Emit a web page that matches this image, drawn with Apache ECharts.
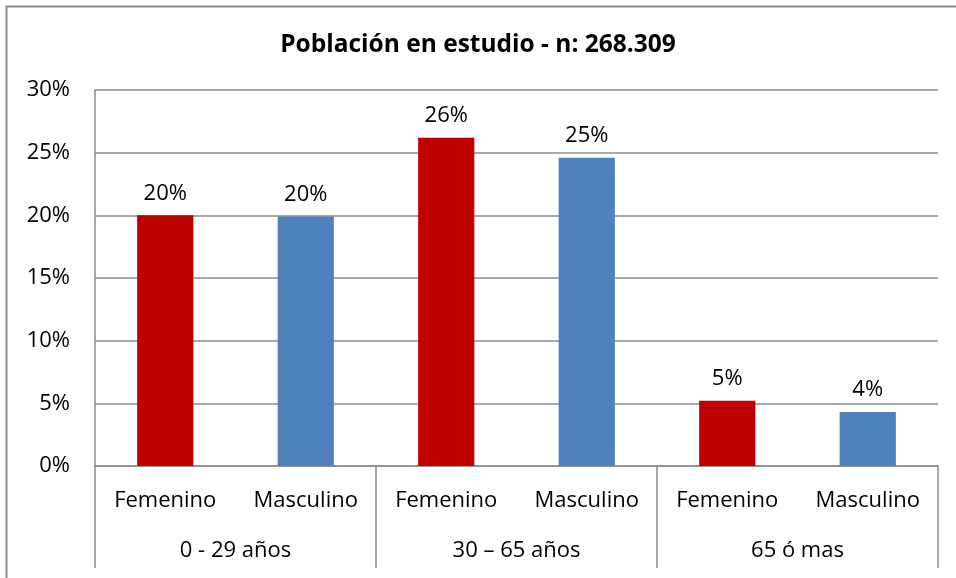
<!DOCTYPE html>
<html>
<head>
<meta charset="utf-8">
<script src="https://cdn.jsdelivr.net/npm/echarts@6/dist/echarts.min.js"></script>
<style>
  html, body { margin: 0; padding: 0; background: #fff; }
  #main { width: 956px; height: 578px; }
</style>
</head>
<body>
<div id="main"></div>
<script>
// datos
var sexLabels = ['Femenino', 'Masculino', 'Femenino', 'Masculino', 'Femenino', 'Masculino'];
var groupLabels = ['0 - 29 años', '30 – 65 años', '65 ó mas'];
var values = [20.0, 19.9, 26.2, 24.6, 5.2, 4.3];
var sexColors = { Femenino: '#C00000', Masculino: '#4F81BD' };
var yTicks = [0, 5, 10, 15, 20, 25, 30];

var font = '"Open Sans", Lato, sans-serif';
var chart = echarts.init(document.getElementById('main'));

var option = {
  animation: false,
  backgroundColor: '#fff',
  title: {
    text: 'Población en estudio - n: 268.309',
    left: 'center',
    top: 28,
    textStyle: { fontFamily: font, fontWeight: 'bold', fontSize: 24.5, color: '#000' }
  },
  graphic: [{
    type: 'polyline',
    shape: { points: [[6.5, 600], [6.5, 6.5], [960, 6.5]] },
    style: { stroke: '#8c8c8c', lineWidth: 2, fill: null }
  }],
  grid: { left: 95, right: 18, top: 90, bottom: 112 },
  xAxis: [{
    type: 'category',
    data: sexLabels,
    axisLine: { show: true, lineStyle: { color: '#8c8c8c', width: 1.5 } },
    axisTick: { show: false },
    axisLabel: { fontFamily: font, fontSize: 22, color: '#000', margin: 24 }
  }, {
    type: 'category',
    position: 'bottom',
    data: groupLabels,
    axisLine: { show: false },
    axisTick: { show: true, length: 102, lineStyle: { color: '#8c8c8c', width: 1.5 } },
    axisLabel: { fontFamily: font, fontSize: 22, color: '#000', margin: 74 }
  }],
  yAxis: {
    type: 'value',
    min: yTicks[0],
    max: yTicks[yTicks.length - 1],
    interval: 5,
    axisLine: { show: true, lineStyle: { color: '#8c8c8c', width: 1.5 } },
    axisTick: { show: false },
    splitLine: { lineStyle: { color: '#8c8c8c', width: 1.5 } },
    axisLabel: {
      fontFamily: font, fontSize: 22, color: '#000', margin: 25,
      formatter: function (v) { return v + '%'; }
    }
  },
  series: [{
    type: 'bar',
    xAxisIndex: 0,
    barWidth: '40%',
    data: values.map(function (v, i) {
      return { value: v, itemStyle: { color: sexColors[sexLabels[i]] } };
    }),
    label: {
      show: true,
      position: 'top',
      distance: 11,
      fontFamily: font,
      fontSize: 22,
      color: '#000',
      formatter: function (p) { return Math.round(p.value) + '%'; }
    }
  }]
};

chart.setOption(option);
</script>
</body>
</html>
